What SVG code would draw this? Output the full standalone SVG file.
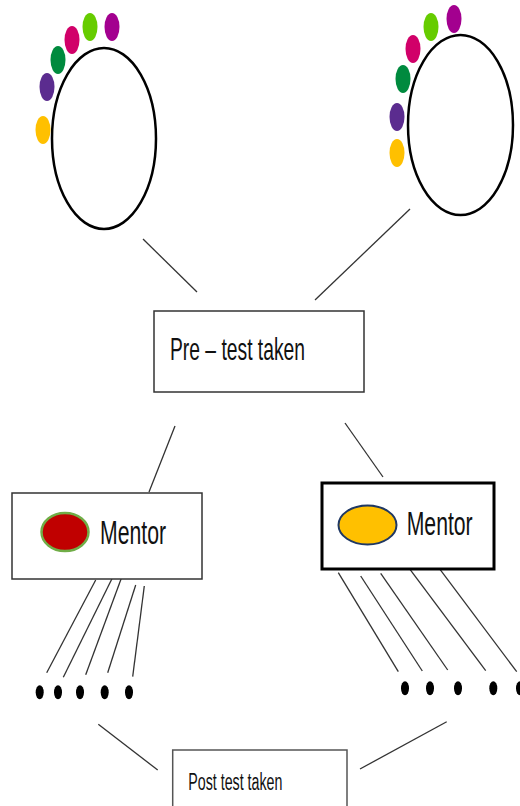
<svg xmlns="http://www.w3.org/2000/svg" width="520" height="806" viewBox="0 0 520 806">
<style>
.ring{fill:none;stroke:#000;stroke-width:2.5}
.ln{stroke:#333;stroke-width:1.3;fill:none}
.box{fill:#fff;stroke:#333;stroke-width:1.5}
.lbl{font-family:"Liberation Sans",Arial,sans-serif;fill:#111}
.dot{fill:#000}
</style>
<rect width="520" height="806" fill="#fff"/>
<g id="group-left">
<ellipse class="ring" cx="104" cy="138.5" rx="52" ry="90.5"/>
<ellipse cx="43" cy="130" rx="7.5" ry="14" fill="#FFC000"/>
<ellipse cx="47" cy="87" rx="7.5" ry="14" fill="#5B2C8F"/>
<ellipse cx="58" cy="60" rx="7.5" ry="14" fill="#008A3E"/>
<ellipse cx="72" cy="40" rx="7.5" ry="14" fill="#D10069"/>
<ellipse cx="90" cy="27" rx="7.5" ry="14" fill="#66CC00"/>
<ellipse cx="112" cy="27" rx="7.5" ry="14" fill="#A3008F"/>
</g>
<g id="group-right">
<ellipse class="ring" cx="460.5" cy="125" rx="52.5" ry="90"/>
<ellipse cx="397" cy="153" rx="7.5" ry="14" fill="#FFC000"/>
<ellipse cx="397" cy="117" rx="7.5" ry="14" fill="#5B2C8F"/>
<ellipse cx="403" cy="79" rx="7.5" ry="14" fill="#008A3E"/>
<ellipse cx="413" cy="49" rx="7.5" ry="14" fill="#D10069"/>
<ellipse cx="431" cy="27" rx="7.5" ry="14" fill="#66CC00"/>
<ellipse cx="454" cy="19" rx="7.5" ry="14" fill="#A3008F"/>
</g>
<g id="connectors">
<line class="ln" x1="143" y1="239" x2="197" y2="292"/>
<line class="ln" x1="410" y1="209" x2="315" y2="300"/>
<line class="ln" x1="175" y1="426" x2="149" y2="492"/>
<line class="ln" x1="345" y1="423" x2="383" y2="477"/>
<line class="ln" x1="95.7" y1="580" x2="46.7" y2="672.7"/>
<line class="ln" x1="113.3" y1="576" x2="63.3" y2="677.3"/>
<line class="ln" x1="121.7" y1="577.3" x2="85.7" y2="674.7"/>
<line class="ln" x1="135.7" y1="585" x2="107.7" y2="672.7"/>
<line class="ln" x1="144.3" y1="586" x2="132.7" y2="676.7"/>
<line class="ln" x1="338.3" y1="572.7" x2="398.3" y2="671.7"/>
<line class="ln" x1="360.7" y1="576" x2="422.3" y2="671"/>
<line class="ln" x1="380.7" y1="573.3" x2="447.7" y2="670"/>
<line class="ln" x1="410" y1="569.3" x2="485.7" y2="670.7"/>
<line class="ln" x1="440" y1="569.3" x2="516.7" y2="671.7"/>
<line class="ln" x1="98.3" y1="724.3" x2="157.7" y2="770"/>
<line class="ln" x1="446.7" y1="721.7" x2="360" y2="769"/>
</g>
<g id="pretest">
<rect class="box" x="154" y="311" width="210" height="81"/>
<text class="lbl" x="170" y="360" font-size="32" textLength="135" lengthAdjust="spacingAndGlyphs">Pre – test taken</text>
</g>
<g id="mentor-left">
<rect class="box" x="12" y="493" width="190" height="86"/>
<ellipse cx="65" cy="532" rx="23.5" ry="19" fill="#C00000" stroke="#70AD47" stroke-width="2.5"/>
<text class="lbl" x="100" y="544" font-size="34" textLength="66" lengthAdjust="spacingAndGlyphs">Mentor</text>
</g>
<g id="mentor-right">
<rect x="322" y="483" width="172" height="86" fill="#fff" stroke="#000" stroke-width="3"/>
<ellipse cx="367.5" cy="525" rx="29" ry="19.5" fill="#FFC000" stroke="#1F3864" stroke-width="2"/>
<text class="lbl" x="406.7" y="535" font-size="34" textLength="66" lengthAdjust="spacingAndGlyphs">Mentor</text>
</g>
<g id="students-left">
<ellipse class="dot" cx="39.7" cy="692.3" rx="4" ry="7"/>
<ellipse class="dot" cx="58" cy="692.3" rx="4" ry="7"/>
<ellipse class="dot" cx="80" cy="692.3" rx="4" ry="7"/>
<ellipse class="dot" cx="104.7" cy="692.3" rx="4" ry="7"/>
<ellipse class="dot" cx="129" cy="692.3" rx="4" ry="7"/>
</g>
<g id="students-right">
<ellipse class="dot" cx="405" cy="688.3" rx="4" ry="7"/>
<ellipse class="dot" cx="430" cy="688.3" rx="4" ry="7"/>
<ellipse class="dot" cx="458" cy="688.3" rx="4" ry="7"/>
<ellipse class="dot" cx="493.3" cy="688.3" rx="4" ry="7"/>
<ellipse class="dot" cx="520" cy="688.3" rx="4" ry="7"/>
</g>
<g id="posttest">
<rect x="172.7" y="750" width="174.3" height="70" fill="#fff" stroke="#555" stroke-width="1.5"/>
<text class="lbl" x="188.3" y="790" font-size="23" textLength="94" lengthAdjust="spacingAndGlyphs">Post test taken</text>
</g>
</svg>
